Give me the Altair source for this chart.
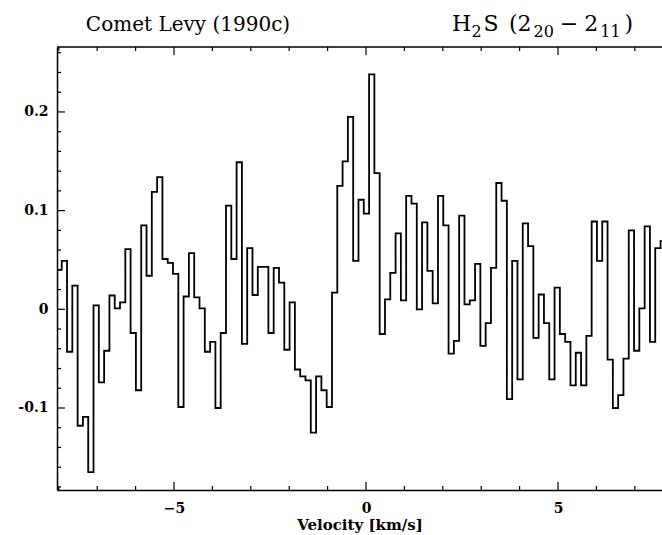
import altair as alt
import pandas as pd
import numpy as np

# ---------------- data ----------------
VEL_START = -8.131      # km/s, centre of first channel
CHAN_WIDTH = 0.1380     # km/s, channel spacing
TA = [
    0.016, 0.040, 0.049, -0.043, 0.024, -0.118, -0.109, -0.165, 0.004, -0.074,
    -0.042, 0.014, 0.001, 0.007, 0.061, -0.024, -0.082, 0.085, 0.034, 0.119,
    0.134, 0.051, 0.047, 0.036, -0.099, 0.013, 0.057, 0.012, 0.001, -0.043,
    -0.033, -0.100, -0.024, 0.105, 0.051, 0.149, -0.035, 0.062, 0.0145, 0.043,
    0.043, -0.024, 0.042, 0.027, -0.041, 0.007, -0.061, -0.068, -0.072, -0.125,
    -0.068, -0.082, -0.099, 0.017, 0.125, 0.150, 0.195, 0.049, 0.111, 0.097,
    0.238, 0.138, -0.025, 0.010, 0.037, 0.077, 0.009, 0.115, 0.107, 0.000,
    0.088, 0.039, 0.006, 0.115, 0.085, -0.045, -0.032, 0.095, 0.005, 0.009,
    0.046, -0.037, -0.014, 0.042, 0.128, 0.110, -0.091, 0.049, -0.071, 0.087,
    0.064, -0.029, 0.015, -0.014, -0.071, 0.022, -0.025, -0.033, -0.077, -0.044,
    -0.077, -0.027, 0.089, 0.049, 0.089, -0.051, -0.100, -0.087, -0.050, 0.080,
    -0.042, 0.001, 0.084, -0.033, 0.062, 0.069,
]

X_DOMAIN = [-8.047, 7.708]
Y_DOMAIN = [-0.1831, 0.2658]
X_LABELS = [-5, 0, 5]
X_TICKS_MINOR = [-8, -7, -6, -4, -3, -2, -1, 1, 2, 3, 4, 6, 7]
Y_LABELS = [-0.1, 0.0, 0.1, 0.2]
Y_TICKS_MINOR = [-0.18, -0.16, -0.14, -0.12, -0.08, -0.06, -0.04, -0.02,
                 0.02, 0.04, 0.06, 0.08, 0.12, 0.14, 0.16, 0.18, 0.22, 0.24, 0.26]

TITLE_LEFT = "Comet Levy (1990c)"
# right title as (text, is_subscript) pieces: H2S (2_20 - 2_11)
TITLE_RIGHT = [("H", False), ("2", True), ("S", False), ("(2", False), ("20", True),
               ("\u2212", False), ("2", False), ("11", True), (")", False)]

# ---------------- layout ----------------
W, H = 605, 443
FONT = "DejaVu Serif"
MAIN_FS, SUB_FS = 22, 16

vel = VEL_START + CHAN_WIDTH * np.arange(len(TA))
df = pd.DataFrame({"v": vel, "t": TA})

xs = alt.Scale(domain=X_DOMAIN, nice=False, zero=False)
ys = alt.Scale(domain=Y_DOMAIN, nice=False, zero=False)

line = alt.Chart(df).mark_line(
    interpolate="step", color="black", strokeWidth=1.8, clip=True
).encode(
    x=alt.X("v:Q", scale=xs, axis=alt.Axis(
        values=X_LABELS, title="Velocity [km/s]", ticks=False, grid=False,
        domainColor="black", domainWidth=1.5, labelPadding=11,
        labelFont=FONT, labelFontSize=14, labelFontWeight="bold", labelColor="black",
        titleFont=FONT, titleFontSize=15, titleFontWeight="bold", titleColor="black",
        titlePadding=2,
    )),
    y=alt.Y("t:Q", scale=ys, axis=alt.Axis(
        values=Y_LABELS, title=None, ticks=False, grid=False,
        domainColor="black", domainWidth=1.5, labelPadding=9,
        labelExpr="datum.value == 0 ? '0' : replace(format(datum.value, '.1f'), '\u2212', '-')",
        labelFont=FONT, labelFontSize=14, labelFontWeight="bold", labelColor="black",
    )),
)

xmin_df = pd.DataFrame({"v": X_TICKS_MINOR})
xmaj_df = pd.DataFrame({"v": X_LABELS})
ymin_df = pd.DataFrame({"t": Y_TICKS_MINOR})
ymaj_df = pd.DataFrame({"t": Y_LABELS})

def xticks(d, y0, y1):
    return alt.Chart(d).mark_rule(color="black", strokeWidth=1.2).encode(
        x=alt.X("v:Q", scale=xs), y=alt.value(y0), y2=alt.value(y1))

def yticks(d, x0, x1):
    return alt.Chart(d).mark_rule(color="black", strokeWidth=1.2).encode(
        y=alt.Y("t:Q", scale=ys), x=alt.value(x0), x2=alt.value(x1))

top_line = alt.Chart(pd.DataFrame({"a": [0]})).mark_rule(
    color="black", strokeWidth=1.5
).encode(x=alt.value(0), x2=alt.value(W), y=alt.value(0))

title_l = alt.Chart(pd.DataFrame({"s": [TITLE_LEFT]})).mark_text(
    font=FONT, fontSize=20, align="center", baseline="alphabetic", color="black"
).encode(text="s:N", x=alt.value(131), y=alt.value(-16))

# approximate advance widths (em) of DejaVu Serif glyphs, to place the pieces
ADV = {"H": 0.838, "S": 0.65, " ": 0.318, "(": 0.39, ")": 0.39,
       "\u2212": 0.838, "2": 0.636, "0": 0.636, "1": 0.636}
GAPS = [1, 2, 11, 2, 6, 6, 2, 4, 0]
title_r_layers = []
xpos = 395.0
for (txt, sub), gap in zip(TITLE_RIGHT, GAPS):
    fs = SUB_FS if sub else MAIN_FS
    title_r_layers.append(
        alt.Chart(pd.DataFrame({"s": [txt]})).mark_text(
            font=FONT, fontSize=fs, align="left", baseline="alphabetic", color="black"
        ).encode(text="s:N", x=alt.value(xpos), y=alt.value(-10 if sub else -16))
    )
    xpos += sum(ADV.get(c, 0.6) for c in txt) * fs + gap

chart = alt.layer(
    line,
    xticks(xmin_df, H, H - 4), xticks(xmaj_df, H, H - 8),
    xticks(xmin_df, 0, 4), xticks(xmaj_df, 0, 8),
    yticks(ymin_df, 0, 4), yticks(ymaj_df, 0, 8),
    top_line, title_l, *title_r_layers,
).properties(
    width=W, height=H,
    autosize=alt.AutoSizeParams(type="none"),
    padding={"left": 57, "top": 47, "right": 0, "bottom": 45},
    background="white",
).configure_view(stroke=None)

chart.save("out.html", embed_options={"renderer": "svg", "actions": False})
